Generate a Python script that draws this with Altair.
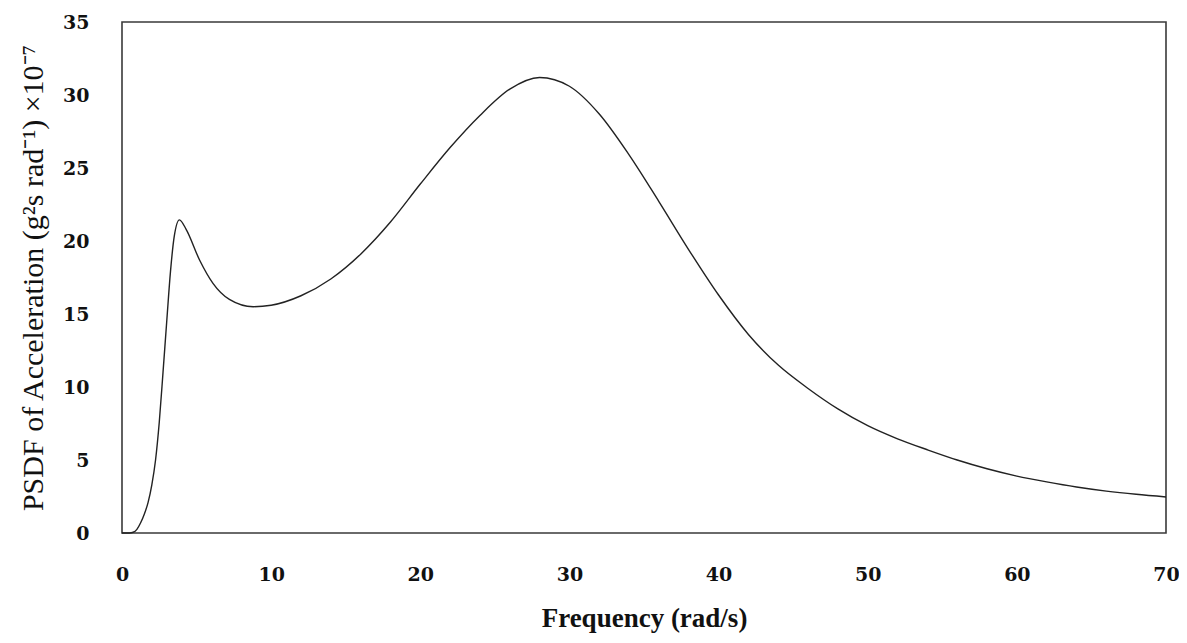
import pandas as pd
import altair as alt

# Verdier lest av figuren (frekvens i rad/s, PSDF x 10^-7)
freq = [0.0, 0.5, 0.75, 1.0, 1.25, 1.5, 1.75, 2.0, 2.25, 2.5, 2.75, 3.0, 3.25, 3.5,
        3.85, 4.3, 5.2, 6.1, 7.2, 8.8, 10.0, 12.0, 14.0, 16.0, 18.0, 20.0, 22.0,
        24.0, 26.0, 28.0, 30.0, 32.0, 34.0, 36.0, 38.0, 40.0, 42.0, 44.0, 46.0,
        48.0, 50.0, 52.0, 54.0, 56.0, 58.0, 60.0, 62.0, 64.0, 66.0, 68.0, 70.0]
psdf = [0.0, 0.0, 0.05, 0.25, 0.7, 1.3, 2.1, 3.3, 5.0, 7.6, 11.0, 14.5, 17.9, 20.3,
        21.45, 20.8, 18.7, 17.1, 16.0, 15.5, 15.6, 16.25, 17.4, 19.1, 21.3, 23.9, 26.4,
        28.6, 30.4, 31.2, 30.6, 28.7, 25.9, 22.7, 19.4, 16.3, 13.6, 11.5, 9.9,
        8.5, 7.35, 6.45, 5.7, 5.0, 4.4, 3.9, 3.5, 3.15, 2.87, 2.65, 2.47]

x_ticks = [0, 10, 20, 30, 40, 50, 60, 70]
y_ticks = [0, 5, 10, 15, 20, 25, 30, 35]

df = pd.DataFrame({'freq': freq, 'psdf': psdf})

chart = alt.Chart(df).mark_line(color='#222222', strokeWidth=1.4, interpolate='monotone').encode(
    x=alt.X('freq:Q', title='Frequency (rad/s)',
            scale=alt.Scale(domain=[0, 70], nice=False, zero=False),
            axis=alt.Axis(values=x_ticks, grid=False, ticks=False, domain=False,
                          labelPadding=32, titlePadding=21, labelFlush=False)),
    y=alt.Y('psdf:Q', title='PSDF of Acceleration (g²s rad⁻¹) ×10⁻⁷',
            scale=alt.Scale(domain=[0, 35], nice=False),
            axis=alt.Axis(values=y_ticks, grid=False, ticks=False, domain=False,
                          labelPadding=33, titlePadding=14, labelFlush=False))
).properties(
    width=1044,
    height=511,
    autosize=alt.AutoSizeParams(type='none'),
    padding={'left': 114, 'top': 14, 'right': 13, 'bottom': 102}
).configure_view(
    stroke='#3a3a3a',
    strokeWidth=1.6
).configure_axis(
    labelFont='DejaVu Serif',
    labelFontWeight='bold',
    labelFontSize=19,
    labelColor='#111111',
    titleFont='Liberation Serif',
    titleColor='#111111',
    titleFontSize=30,
    titleFontWeight='normal'
).configure_axisX(
    titleFontWeight='bold',
    titleFontSize=27
)

chart.save("out.html", embed_options={"renderer": "svg", "actions": False})
